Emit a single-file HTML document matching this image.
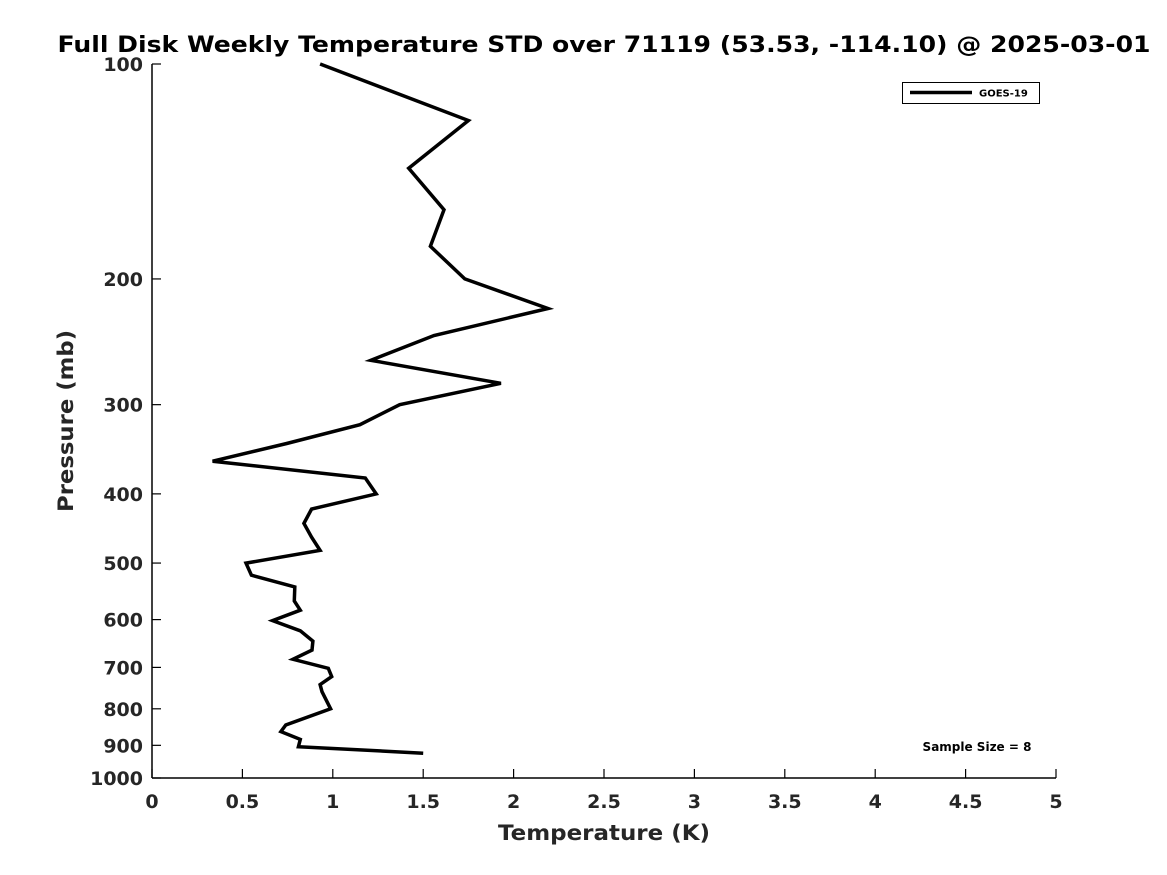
<!DOCTYPE html>
<html><head><meta charset="utf-8"><style>
body{margin:0;background:#fff}
svg{display:block;font-family:"DejaVu Sans","Liberation Sans",sans-serif}
</style></head><body>
<svg id="chart" width="1167" height="875" viewBox="0 0 1167 875">
<text x="604" y="52" text-anchor="middle" font-size="22" font-weight="bold" textLength="1093" lengthAdjust="spacingAndGlyphs">Full Disk Weekly Temperature STD over 71119 (53.53, -114.10) @ 2025-03-01</text>
<g id="axes"></g>
<path id="series" fill="none" stroke="#000" stroke-width="3.5" stroke-linejoin="miter"></path>
<g>
<rect x="902.5" y="82.5" width="137" height="21" fill="#fff" stroke="#000" stroke-width="1"></rect>
<line x1="910" y1="92.5" x2="972" y2="92.5" stroke="#000" stroke-width="3.5"></line>
<text x="979" y="96.5" font-size="10" font-weight="bold">GOES-19</text>
</g>
<text x="977" y="751" text-anchor="middle" font-size="12" font-weight="bold">Sample Size = 8</text>
<text x="604" y="840" text-anchor="middle" font-size="21" font-weight="bold" fill="#262626" textLength="212" lengthAdjust="spacingAndGlyphs">Temperature (K)</text>
<text transform="translate(73,421) rotate(-90)" text-anchor="middle" font-size="21" font-weight="bold" fill="#262626" textLength="182" lengthAdjust="spacingAndGlyphs">Pressure (mb)</text>
</svg>
<script>
const pressures=[100,120,140,160,180,200,220,240,260,280,300,320,340,360,380,400,420,440,460,480,500,520,540,565,582,602,622,643,662,682,702,721,740,757,800,843,861,883,904,923];
const stdValues=[0.93,1.75,1.42,1.615,1.54,1.73,2.19,1.56,1.21,1.93,1.37,1.15,0.745,0.335,1.18,1.24,0.883,0.84,0.883,0.93,0.52,0.55,0.79,0.787,0.82,0.667,0.82,0.89,0.885,0.78,0.975,0.994,0.93,0.94,0.988,0.74,0.713,0.82,0.81,1.50];
const xTicks=[0,0.5,1,1.5,2,2.5,3,3.5,4,4.5,5];
const xTickLabels=["0","0.5","1","1.5","2","2.5","3","3.5","4","4.5","5"];
const yTicks=[100,200,300,400,500,600,700,800,900,1000];
const yTickLabels=["100","200","300","400","500","600","700","800","900","1000"];
const X0=152,X1=1056,Y0=64,Y1=778;
function xs(v){return X0+(v-0)/(5-0)*(X1-X0);}
function ys(p){return Y0+(Math.log10(p)-2)*(Y1-Y0);}
const NS="http://www.w3.org/2000/svg";
const axes=document.getElementById('axes');
function mk(tag,attrs,parent){const e=document.createElementNS(NS,tag);for(const k in attrs)e.setAttribute(k,attrs[k]);parent.appendChild(e);return e;}
const yAxis=mk('line',{x1:X0,y1:Y0,x2:X0,y2:Y1,stroke:'#000','stroke-width':1.5},axes);


const xAxis=mk('line',{x1:X0,y1:Y1,x2:X1,y2:Y1,stroke:'#000','stroke-width':1.5},axes);


xTicks.forEach((v,i)=>{
  const x=xs(v);
  const t=mk('line',{x1:x,y1:Y1,x2:x,y2:Y1-9,stroke:'#000','stroke-width':1.2},axes);
  
  
  const l=mk('text',{x:x,y:808,'text-anchor':'middle','font-size':19,'font-weight':'bold',fill:'#262626'},axes);
  l.textContent=xTickLabels[i];
  
  
});
yTicks.forEach((p,i)=>{
  const y=ys(p);
  const t=mk('line',{x1:X0,y1:y,x2:X0+9,y2:y,stroke:'#000','stroke-width':1.2},axes);
  
  
  const l=mk('text',{x:143,y:y+7,'text-anchor':'end','font-size':19,'font-weight':'bold',fill:'#262626'},axes);
  l.textContent=yTickLabels[i];
  
  
});
let d='';
pressures.forEach((p,i)=>{d+=(i?'L':'M')+xs(stdValues[i]).toFixed(1)+','+ys(p).toFixed(1);});
document.getElementById('series').setAttribute('d',d);
</script>
</body></html>
